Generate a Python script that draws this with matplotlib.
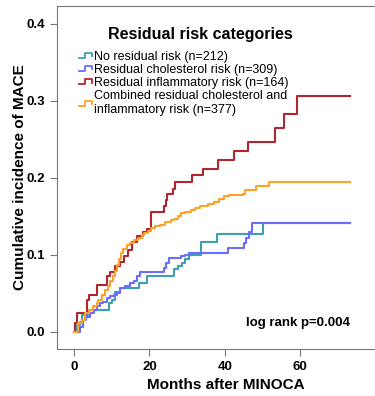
import matplotlib.pyplot as plt
from matplotlib.legend_handler import HandlerLine2D
from matplotlib.lines import Line2D

plt.rcParams['font.family'] = ['Liberation Sans', 'DejaVu Sans']

# Kaplan-Meier style cumulative incidence
teal_t = [0, 0.7, 1.6, 2.0, 3.8, 9.2, 10.0, 10.9, 12.3, 17.2, 19.4, 26.5, 27.5, 28.7, 29.5,
          30.5, 33.6, 38.0, 50.0, 73.2]
teal_y = [0, 0.009, 0.013, 0.022, 0.029, 0.037, 0.042, 0.052, 0.057, 0.063, 0.072, 0.081, 0.085,
          0.090, 0.094, 0.100, 0.117, 0.127, 0.141, 0.141]

blue_t = [0, 1.6, 2.5, 3.3, 4.3, 5.2, 6.0, 6.9, 7.8, 8.7, 9.6, 10.5, 11.4, 12.3, 13.5, 14.9, 15.8,
          16.7, 17.6, 23.8, 24.3, 25.2, 28.3, 29.5, 30.5, 40.7, 45.1, 45.6, 46.5, 47.1, 73.2]
blue_y = [0, 0.007, 0.016, 0.020, 0.024, 0.029, 0.033, 0.037, 0.039, 0.044, 0.046, 0.048, 0.050,
          0.057, 0.060, 0.063, 0.066, 0.072, 0.078, 0.083, 0.089, 0.096, 0.098, 0.100, 0.102,
          0.109, 0.115, 0.122, 0.130, 0.141, 0.141]

red_t = [0, 0.3, 0.8, 3.5, 4.0, 6.0, 8.7, 9.6, 10.9, 12.3, 13.3, 14.4, 15.4, 16.7, 18.2, 19.4,
         20.3, 23.8, 24.3, 24.6, 26.2, 26.8, 31.4, 34.1, 38.2, 42.3, 46.2, 53.2, 55.6, 59.2, 73.3]
red_y = [0, 0.011, 0.024, 0.042, 0.048, 0.061, 0.072, 0.078, 0.085, 0.091, 0.099, 0.106, 0.117,
         0.124, 0.130, 0.134, 0.155, 0.163, 0.171, 0.179, 0.186, 0.194, 0.203, 0.212, 0.223,
         0.235, 0.247, 0.264, 0.283, 0.306, 0.306]

orange_t = [0, 1.0, 2.0, 2.8, 4.0, 5.0, 6.0, 6.5, 7.5, 8.3, 9.0, 9.6, 10.3, 10.9, 11.4, 12.0,
            12.5, 13.1, 14.0, 14.9, 16.0, 17.0, 18.0, 18.5, 19.5, 20.3, 21.5, 22.9, 24.0, 25.6,
            26.5, 27.5, 28.3, 29.5, 30.9, 32.0, 33.5, 35.4, 37.0, 38.5, 39.8, 41.0, 44.7, 45.4,
            48.3, 51.8, 73.3]
orange_y = [0, 0.011, 0.016, 0.024, 0.029, 0.033, 0.037, 0.042, 0.048, 0.054, 0.059, 0.066,
            0.072, 0.079, 0.087, 0.094, 0.102, 0.107, 0.113, 0.116, 0.119, 0.122, 0.126, 0.128,
            0.131, 0.135, 0.137, 0.139, 0.142, 0.145, 0.147, 0.150, 0.154, 0.156, 0.158, 0.161,
            0.164, 0.166, 0.169, 0.172, 0.176, 0.178, 0.179, 0.184, 0.189, 0.194, 0.194]

labels = ['No residual risk (n=212)', 'Residual cholesterol risk (n=309)',
          'Residual inflammatory risk (n=164)',
          'Combined residual cholesterol and\ninflammatory risk (n=377)']
colors = ['#3F9FB2', '#6B6BFF', '#B0262E', '#FFA126']


class StepHandler(HandlerLine2D):
    # little step icon like SPSS legends
    def create_artists(self, legend, orig_handle, xdescent, ydescent, width, height, fontsize, trans):
        x0 = -xdescent
        y0 = -ydescent + 0.2 * height
        xs = [x0, x0 + 0.45 * width, x0 + 0.45 * width, x0 + width, x0 + width]
        ys = [y0, y0, y0 + 0.6 * height, y0 + 0.6 * height, y0 + 0.2 * height]
        ln = Line2D(xs, ys, color=orig_handle.get_color(), lw=1.3)
        ln.set_transform(trans)
        return [ln]


fig = plt.figure(figsize=(3.75, 3.96), dpi=100)
ax = fig.add_axes([0.152, 0.119, 0.85, 0.866])

handles = []
for t, y, c, lab in zip([teal_t, blue_t, red_t, orange_t], [teal_y, blue_y, red_y, orange_y],
                        colors, labels):
    h, = ax.step(t, y, where='post', color=c, lw=1.5, label=lab)
    handles.append(h)

ax.set_xlim(-4.5, 80)
ax.set_ylim(-0.022, 0.423)
ax.set_xticks([0, 20, 40, 60])
ax.set_yticks([0.0, 0.1, 0.2, 0.3, 0.4])
ax.set_yticklabels(['0.0', '0.1', '0.2', '0.3', '0.4'])
for s in ['left', 'bottom', 'top']:
    ax.spines[s].set_color('#777777')
ax.spines['right'].set_visible(False)
ax.tick_params(colors='#777777', labelcolor='black', length=5, width=0.8, labelsize=9.5)
for lab in ax.get_xticklabels() + ax.get_yticklabels():
    lab.set_fontweight('bold')

ax.set_xlabel('Months after MINOCA', fontsize=11, fontweight='bold')
ax.xaxis.set_label_coords(0.53, -0.085)
ax.set_ylabel('Cumulative incidence of MACE', fontsize=11, fontweight='bold')
ax.yaxis.set_label_coords(-0.095, 0.5)

ax.text(0.45, 0.918, 'Residual risk categories', transform=ax.transAxes, ha='center',
        va='center', fontsize=11.5, fontweight='bold')
leg = ax.legend(handles=handles, loc='upper left', bbox_to_anchor=(0.068, 0.87),
                frameon=False, fontsize=9, handler_map={Line2D: StepHandler()},
                handlelength=1.1, handletextpad=0.1, labelspacing=0.1, borderpad=0,
                borderaxespad=0)

ax.text(0.92, 0.075, 'log rank p=0.004', transform=ax.transAxes, ha='right', va='center',
        fontsize=9.5, fontweight='bold')

fig.savefig('out.png', dpi=100)
